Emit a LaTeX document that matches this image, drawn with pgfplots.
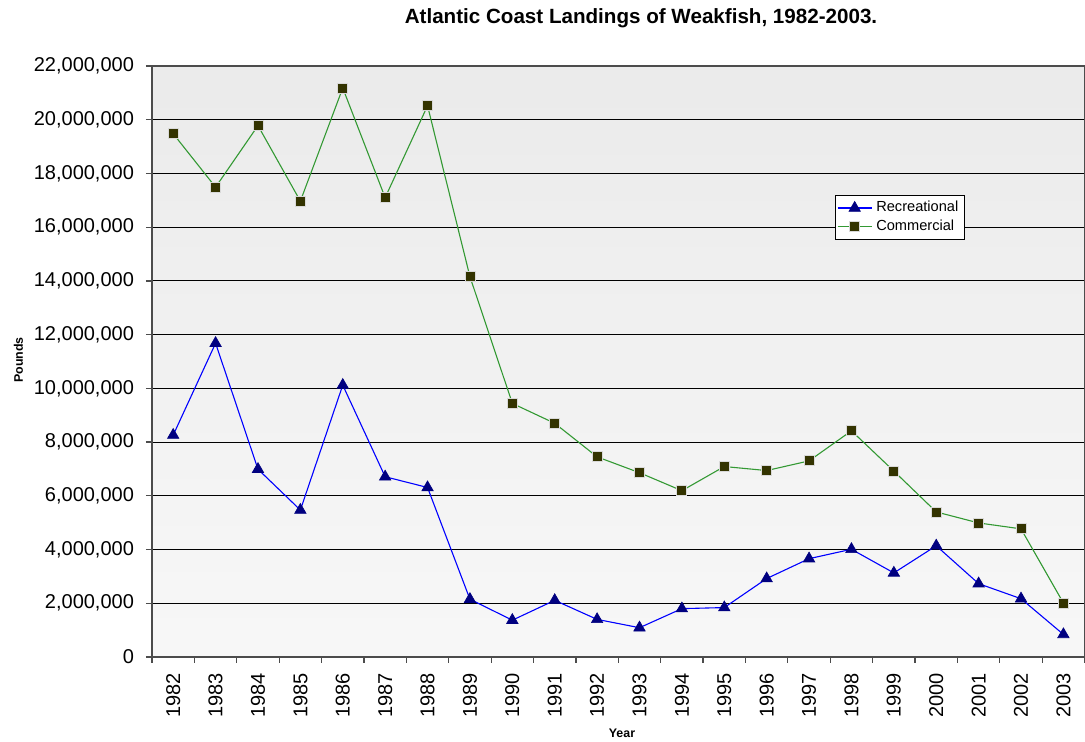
\documentclass[border=0pt]{standalone}
\usepackage{pgfplots}
\pgfplotsset{compat=1.18}
\usepackage{fontspec}
\setmainfont{Liberation Sans}
\definecolor{recline}{RGB}{0,0,255}
\definecolor{recmark}{RGB}{0,0,128}
\definecolor{comline}{RGB}{51,153,51}
\definecolor{commark}{RGB}{51,51,0}
\begin{document}
\begin{tikzpicture}
\useasboundingbox (0,0) rectangle (542.5pt,371pt);
\begin{axis}[
  at={(76pt,42.5pt)}, anchor=south west,
  scale only axis, width=466.3pt, height=295.5pt,
  xmin=-0.5, xmax=21.5, ymin=0, ymax=22000000,
  xtick={0,...,21},
  xticklabels={1982,1983,1984,1985,1986,1987,1988,1989,1990,1991,1992,1993,1994,1995,1996,1997,1998,1999,2000,2001,2002,2003},
  minor xtick={-0.5,0.5,...,21.5},
  major x tick style={draw=none},
  minor x tick style={draw=gray!60!black, line width=0.6pt},
  ytick={0,2000000,...,22000000},
  scaled y ticks=false,
  y tick style={draw=gray!60!black, line width=0.6pt},
  tick align=outside, major tick length=3pt, minor tick length=3pt,
  tick pos=left,
  ymajorgrids, grid style={black, line width=0.5pt},
  axis line style={gray!60!black, line width=0.9pt},
  yticklabel style={/pgf/number format/fixed, /pgf/number format/1000 sep={,}, /pgf/number format/assume math mode=true, font=\fontsize{10}{11}\selectfont},
  yticklabel shift=2.5pt,
  xticklabel style={rotate=90, anchor=east, font=\fontsize{10}{11}\selectfont},
  xticklabel shift=1.5pt,
  axis background/.style={shade, top color=black!8, bottom color=black!3},
  legend style={at={(0.732,0.782)}, anchor=north west, font=\fontsize{7.3}{8}\selectfont, draw=black, fill=white, inner sep=1pt, row sep=-1.5pt, cells={anchor=west}},
]
\addplot[color=recline, line width=0.55pt, mark=triangle*, mark size=3.3pt, mark options={fill=recmark, draw=recmark, line width=0.3pt}] coordinates {
(0,8260000) (1,11680000) (2,6990000) (3,5470000) (4,10120000) (5,6710000) (6,6310000) (7,2150000) (8,1370000) (9,2110000) (10,1400000) (11,1090000) (12,1800000) (13,1840000) (14,2920000) (15,3660000) (16,4010000) (17,3130000) (18,4140000) (19,2730000) (20,2170000) (21,840000)
};
\addlegendentry{Recreational}
\addplot[color=comline, line width=0.55pt, mark=square*, mark size=2.5pt, mark options={fill=commark, draw=black!15, line width=0.4pt}] coordinates {
(0,19480000) (1,17490000) (2,19780000) (3,16970000) (4,21180000) (5,17100000) (6,20520000) (7,14160000) (8,9440000) (9,8700000) (10,7450000) (11,6860000) (12,6190000) (13,7090000) (14,6940000) (15,7300000) (16,8420000) (17,6920000) (18,5400000) (19,4990000) (20,4770000) (21,2010000)
};
\addlegendentry{Commercial}
\end{axis}
\node[font=\bfseries\fontsize{10.3}{11}\selectfont] at (320.5pt,362pt) {Atlantic Coast Landings of Weakfish, 1982-2003.};
\node[font=\bfseries\fontsize{6.2}{7}\selectfont, rotate=90] at (9.25pt,191pt) {Pounds};
\node[font=\bfseries\fontsize{6.2}{7}\selectfont] at (311pt,4.5pt) {Year};
\end{tikzpicture}
\end{document}
